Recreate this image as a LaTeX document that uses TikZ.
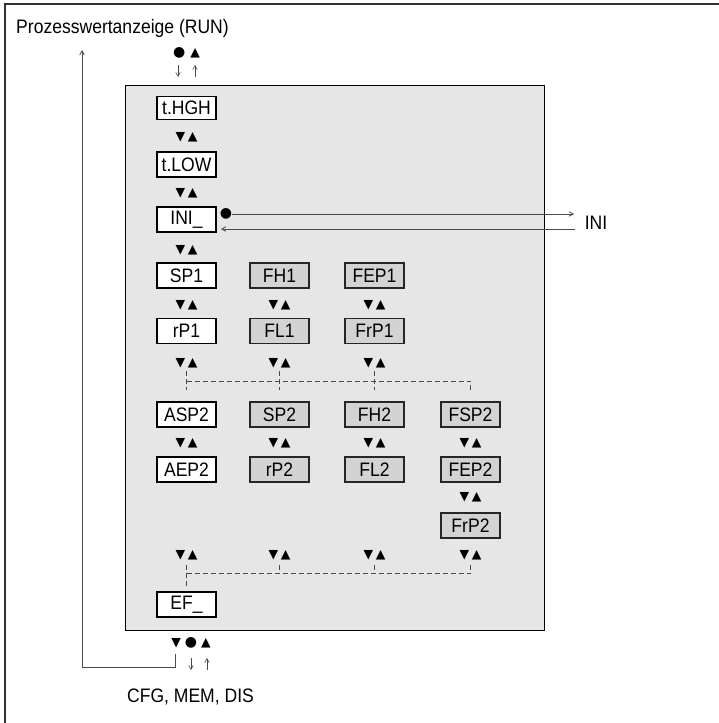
\documentclass[tikz,border=0pt]{standalone}
\usepackage{fontspec}
\setmainfont{Liberation Sans}[FakeStretch=0.9]
\newfontfamily\symfont{DejaVu Sans}
\usetikzlibrary{arrows.meta}
\definecolor{bgc}{HTML}{E6E6E7}
\definecolor{boxg}{HTML}{D3D3D3}
\definecolor{ln}{HTML}{4A4A4A}
\newcommand{\udsym}{▼\kern2.5pt▲}
\begin{document}
\begin{tikzpicture}[x=1pt,y=-1pt,
  txt/.style={font=\fontsize{19.5}{22}\selectfont, inner sep=0pt},
  wbox/.style={txt, draw=black, line width=1.5pt, fill=white, minimum width=59pt, minimum height=25pt},
  gbox/.style={wbox, fill=boxg, draw=black!85, line width=1.3pt},
  ud/.style={font=\symfont\fontsize{12.5}{12}\selectfont, inner sep=0pt},
  sym/.style={font=\symfont\fontsize{14}{14}\selectfont, inner sep=0pt},
  conn/.style={draw=ln, line width=0.8pt},
  tip/.style={-{Straight Barb[length=4pt,width=4.5pt]}},
  dashln/.style={draw=ln, line width=0.8pt, dash pattern=on 5pt off 3pt},
  ]
\useasboundingbox (0,0) rectangle (719,723);
% outer frame (top and left edges)
\draw[draw=black!80, line width=1.5pt] (5,723) -- (5,4) -- (719,4);
% gray panel
\draw[fill=bgc, draw=black, line width=0.8pt] (125,85) rectangle (544,630);

\node[txt, anchor=west] (run) at (16,28) {Prozesswertanzeige (RUN)};
\node[txt] (cfg) at (190.5,697) {CFG, MEM, DIS};
\node[txt] (inilbl) at (596,223) {INI};

% top symbols
\node[sym] (topsym) at (186.5,53) {●\kern5pt{\fontsize{12.5}{12}\selectfont▲}};
\coordinate (td1) at (178,65); \coordinate (td2) at (178,77);
\coordinate (tu1) at (195,77); \coordinate (tu2) at (195,65);
\draw[conn, line width=0.6pt, tip] (td1) -- (td2);
\draw[conn, line width=0.6pt, tip] (tu1) -- (tu2);

% column 1
\node[wbox, minimum height=23pt] (thgh) at (186.5,108) {t.HGH};
\node[ud] (u1) at (186.5,137) {\udsym};
\node[wbox] (tlow) at (186.5,164.5) {t.LOW};
\node[ud] (u2) at (186.5,193) {\udsym};
\node[wbox] (ini) at (186.5,219.5) {INI\_};
\node[ud] (u3) at (186.5,250) {\udsym};

% INI link
\node[sym] (inidot) at (226,214) {●};
\coordinate (iniR1) at (574,214);
\coordinate (iniR2) at (575,229);
\coordinate (iniL2) at (221,229);
\draw[conn, tip] (inidot.east) -- (iniR1);
\draw[conn, tip] (iniR2) -- (iniL2);

% rows SP1 / rP1
\node[wbox] (sp1) at (186.5,275.5) {SP1};
\node[gbox] (fh1) at (279.5,275.5) {FH1};
\node[gbox] (fep1) at (374.5,275.5) {FEP1};
\node[ud] (u4a) at (186.5,305) {\udsym};
\node[ud] (u4b) at (279.5,305) {\udsym};
\node[ud] (u4c) at (374.5,305) {\udsym};
\node[wbox] (rp1) at (186.5,331) {rP1};
\node[gbox] (fl1) at (279.5,331) {FL1};
\node[gbox] (frp1) at (374.5,331) {FrP1};
\node[ud] (u5a) at (186.5,363) {\udsym};
\node[ud] (u5b) at (279.5,363) {\udsym};
\node[ud] (u5c) at (374.5,363) {\udsym};

% upper dashed branch
\coordinate (d1a) at (186.5,371); \coordinate (d1b) at (186.5,390);
\coordinate (d2a) at (279.5,371); \coordinate (d2b) at (279.5,390);
\coordinate (d3a) at (374.5,371); \coordinate (d3b) at (374.5,390);
\coordinate (d4a) at (470.5,381); \coordinate (d4b) at (470.5,390);
\draw[dashln] (186.5,381) -- (d4a) -- (d4b);
\draw[dashln] (d1a) -- (d1b);
\draw[dashln] (d2a) -- (d2b);
\draw[dashln] (d3a) -- (d3b);

% rows ASP2 / AEP2
\node[wbox] (asp2) at (186.5,414.5) {ASP2};
\node[gbox] (sp2) at (279.5,414.5) {SP2};
\node[gbox] (fh2) at (374.5,414.5) {FH2};
\node[gbox, line width=1.6pt] (fsp2) at (470.5,414.5) {FSP2};
\node[ud] (u6a) at (186.5,443) {\udsym};
\node[ud] (u6b) at (279.5,443) {\udsym};
\node[ud] (u6c) at (374.5,443) {\udsym};
\node[ud] (u6d) at (470.5,443) {\udsym};
\node[wbox] (aep2) at (186.5,469.5) {AEP2};
\node[gbox] (rp2) at (279.5,469.5) {rP2};
\node[gbox] (fl2) at (374.5,469.5) {FL2};
\node[gbox, line width=1.6pt] (fep2) at (470.5,469.5) {FEP2};
\node[ud] (u7d) at (470.5,497) {\udsym};
\node[gbox] (frp2) at (470.5,525.5) {FrP2};
\node[ud] (u8a) at (186.5,555) {\udsym};
\node[ud] (u8b) at (279.5,555) {\udsym};
\node[ud] (u8c) at (374.5,555) {\udsym};
\node[ud] (u8d) at (470.5,555) {\udsym};

% lower dashed merge
\coordinate (e1a) at (186.5,565); \coordinate (e1b) at (186.5,586);
\coordinate (e2a) at (279.5,565);
\coordinate (e3a) at (374.5,565);
\coordinate (e4a) at (470.5,565);
\draw[dashln] (186.5,573) -- (470.5,573);
\draw[dashln] (e1a) -- (e1b);
\draw[dashln] (e2a) -- (279.5,573);
\draw[dashln] (e3a) -- (374.5,573);
\draw[dashln] (e4a) -- (470.5,573);

\node[wbox] (ef) at (186.5,604.5) {EF\_};

% bottom symbols
\node[sym] (botsym) at (191,643) {\fontsize{12.5}{12}\selectfont▼\kern4pt\fontsize{14}{14}\selectfont●\kern4pt\fontsize{12.5}{12}\selectfont▲};
\coordinate (bd1) at (191,658); \coordinate (bd2) at (191,670);
\coordinate (bu1) at (207,670); \coordinate (bu2) at (207,658);
\draw[conn, line width=0.6pt, tip] (bd1) -- (bd2);
\draw[conn, line width=0.6pt, tip] (bu1) -- (bu2);

% return to RUN
\coordinate (ret0) at (175,654);
\coordinate (ret1) at (175,667);
\coordinate (ret2) at (82,667);
\coordinate (ret3) at (82,50);
\draw[conn, tip] (ret0) -- (ret1) -- (ret2) -- (ret3);
\end{tikzpicture}
\end{document}
